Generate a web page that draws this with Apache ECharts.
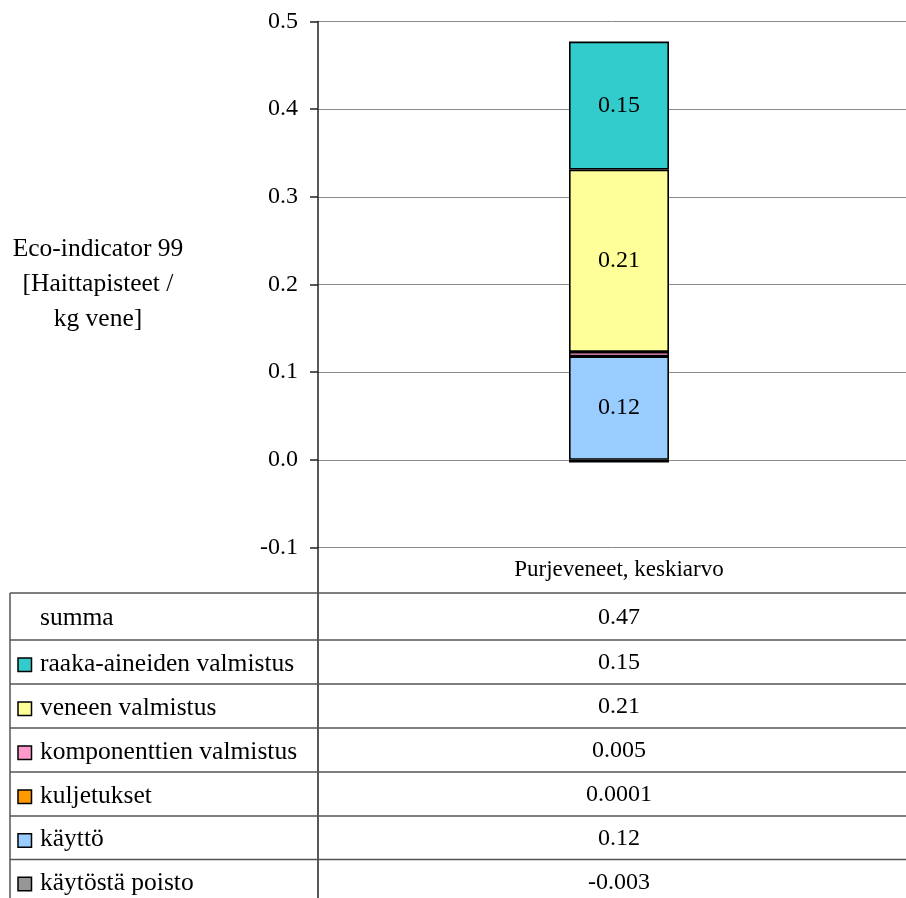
<!DOCTYPE html>
<html>
<head>
<meta charset="utf-8">
<script src="https://cdn.jsdelivr.net/npm/echarts@6/dist/echarts.min.js"></script>
<style>
  html, body { margin: 0; padding: 0; background: #fff; }
  #chart { width: 906px; height: 898px; }
</style>
</head>
<body>
<div id="chart"></div>
<script>
// Category and stacked components (bottom of the stack first)
const categories = ['Purjeveneet, keskiarvo'];
const seriesNames = [
  'käytöstä poisto',
  'käyttö',
  'kuljetukset',
  'komponenttien valmistus',
  'veneen valmistus',
  'raaka-aineiden valmistus'
];
const seriesValues = [-0.003, 0.118, 0.0001, 0.005, 0.208, 0.146];
const seriesColors = ['#969696', '#99CCFF', '#FF9900', '#FF99CC', '#FFFF99', '#33CCCC'];
// Components that carry a value label inside the bar
const labelledSeries = ['käyttö', 'veneen valmistus', 'raaka-aineiden valmistus'];
const sumLabel = 'summa';
const yTicks = [-0.1, 0.0, 0.1, 0.2, 0.3, 0.4, 0.5];
const yAxisName = 'Eco-indicator 99\n[Haittapisteet /\nkg vene]';

const FONT = '"Liberation Serif", "Times New Roman", serif';
const FS_AXIS = 24;
const FS_CAT = 23;
const FS_NAME = 25.5;

function fmt(v) {
  return Math.abs(v) >= 0.01 ? v.toFixed(2) : String(v);
}

const chart = echarts.init(document.getElementById('chart'), null, { renderer: 'canvas' });

// plot area runs a little past the right edge of the canvas
const GRID = { left: 318, top: 21.5, width: 602, height: 526, outerBoundsMode: 'none' };

const series = seriesNames.map((name, i) => ({
  name: name,
  type: 'bar',
  stack: 'total',
  barWidth: 100,
  data: [seriesValues[i]],
  itemStyle: { color: seriesColors[i], borderColor: '#000', borderWidth: 1.6 },
  label: {
    show: labelledSeries.includes(name),
    position: 'inside',
    formatter: p => fmt(p.value),
    fontFamily: FONT,
    fontSize: FS_AXIS,
    color: '#000'
  },
  silent: true
}));

chart.setOption({
  animation: false,
  backgroundColor: '#fff',
  grid: GRID,
  xAxis: {
    type: 'category',
    data: categories,
    axisLine: { show: false, onZero: false },
    axisTick: { show: false },
    splitLine: { show: false },
    axisLabel: { fontFamily: FONT, fontSize: FS_CAT, color: '#000', margin: 11 }
  },
  yAxis: {
    type: 'value',
    min: yTicks[0],
    max: yTicks[yTicks.length - 1],
    interval: 0.1,
    name: yAxisName,
    nameLocation: 'middle',
    nameRotate: 0,
    nameGap: 220,
    nameTextStyle: {
      fontFamily: FONT, fontSize: FS_NAME, color: '#000', align: 'center',
      lineHeight: 35, padding: [14, 0, 0, 0]
    },
    axisLine: { show: true, lineStyle: { color: '#222', width: 1.5 } },
    axisTick: { show: true, inside: false, length: 8, lineStyle: { color: '#222', width: 1.5 } },
    splitLine: { show: true, lineStyle: { color: '#8a8a8a', width: 1 } },
    axisLabel: {
      fontFamily: FONT, fontSize: FS_AXIS, color: '#000', margin: 20,
      formatter: v => v.toFixed(1)
    }
  },
  series: series
});

// Data table under the plot: one row for the total, then the components top-down
const colX = chart.convertToPixel({ xAxisIndex: 0 }, categories[0]);
const axisX = GRID.left;
const plotBottom = GRID.top + GRID.height;
const tableLeft = 10;
const tableRight = 906;
const rowLines = [593, 640, 684, 728, 772, 816, 859.5, 903];
const lineStyle = { stroke: '#555', lineWidth: 1.5 };

const total = seriesValues.reduce((a, b) => a + b, 0);
const rows = [{ name: sumLabel, value: total, color: null }];
for (let i = seriesNames.length - 1; i >= 0; i--) {
  rows.push({ name: seriesNames[i], value: seriesValues[i], color: seriesColors[i] });
}

const graphics = [];
// column divider continuing the value axis line
graphics.push({ type: 'line', shape: { x1: axisX, y1: plotBottom, x2: axisX, y2: 898 }, style: { stroke: '#222', lineWidth: 1.5 }, silent: true });
// left border
graphics.push({ type: 'line', shape: { x1: tableLeft, y1: rowLines[0], x2: tableLeft, y2: 898 }, style: lineStyle, silent: true });
// horizontal rules
for (let r = 0; r < rowLines.length - 1; r++) {
  graphics.push({ type: 'line', shape: { x1: tableLeft, y1: rowLines[r], x2: tableRight, y2: rowLines[r] }, style: lineStyle, silent: true });
}
rows.forEach((row, r) => {
  const rc = (rowLines[r] + rowLines[r + 1]) / 2;
  if (row.color) {
    graphics.push({
      type: 'rect',
      shape: { x: 18, y: rc - 4, width: 13.5, height: 13.5 },
      style: { fill: row.color, stroke: '#000', lineWidth: 1.5 },
      silent: true
    });
  }
  graphics.push({
    type: 'text',
    x: 40, y: rc + 2,
    style: { text: row.name, font: FS_NAME + 'px ' + FONT, fill: '#000', align: 'left', verticalAlign: 'middle' },
    silent: true
  });
  graphics.push({
    type: 'text',
    x: colX, y: rc + 1,
    style: { text: fmt(row.value), font: FS_AXIS + 'px ' + FONT, fill: '#000', align: 'center', verticalAlign: 'middle' },
    silent: true
  });
});

chart.setOption({ graphic: graphics });
</script>
</body>
</html>
